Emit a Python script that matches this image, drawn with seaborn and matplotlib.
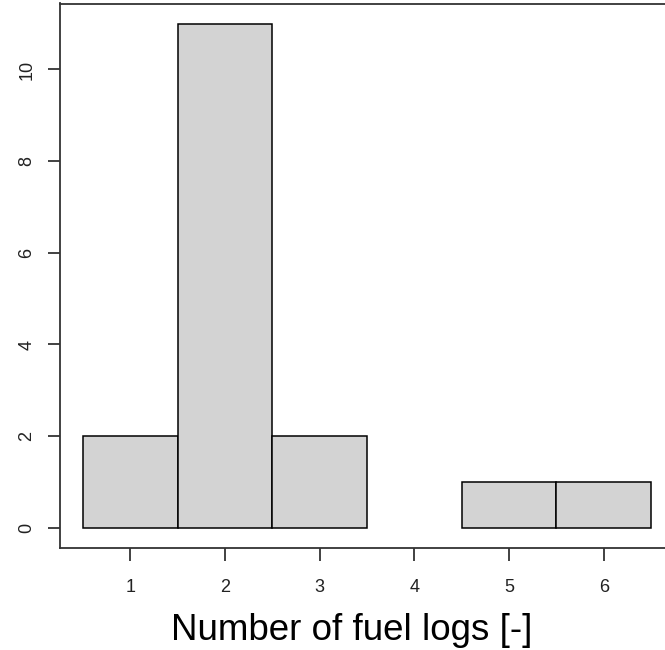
import numpy as np
import pandas as pd
import seaborn as sns
import matplotlib.pyplot as plt

sns.set_style('white')
plt.rcParams['font.family'] = ['Liberation Sans', 'DejaVu Sans']

# counts per number of fuel logs
fuel_logs = [1, 2, 3, 4, 5, 6]
counts = [2, 11, 2, 0, 1, 1]
y_ticks = [0, 2, 4, 6, 8, 10]

df = pd.DataFrame({'logs': fuel_logs, 'n': counts})

fig = plt.figure(figsize=(6.65, 6.5), dpi=100)
ax = fig.add_axes([60.3 / 665, 1 - 548 / 650, 613.5 / 665, 544.5 / 650])

sns.histplot(data=df, x='logs', weights='n', discrete=True, ax=ax,
             color='#d3d3d3', edgecolor='black', linewidth=1.1, alpha=1)

# empty bins are not drawn at all (like R's hist)
for p in ax.patches:
    if p.get_height() == 0:
        p.set_visible(False)

ax.set_xlim(0.26, 6.74)
ax.set_ylim(-0.44, 11.44)
ax.set_xticks(fuel_logs)
ax.set_yticks(y_ticks)
ax.set_xlabel('')
ax.set_ylabel('')

for s in ['left', 'top', 'bottom', 'right']:
    ax.spines[s].set_visible(True)
    ax.spines[s].set_color('#333333')
    ax.spines[s].set_linewidth(1.3)

ax.tick_params(axis='both', direction='out', length=9, width=1.3,
               color='#333333', labelsize=13, labelcolor='#222222',
               bottom=True, left=True)
ax.tick_params(axis='x', pad=13)
ax.tick_params(axis='y', pad=9)
for lab in ax.get_yticklabels():
    lab.set_rotation(90)
    lab.set_va('center')

fig.text(352 / 665, 1 - 640 / 650, 'Number of fuel logs [-]', ha='center',
         va='baseline', fontsize=26.5, color='black')

fig.savefig('out.png', dpi=100)
